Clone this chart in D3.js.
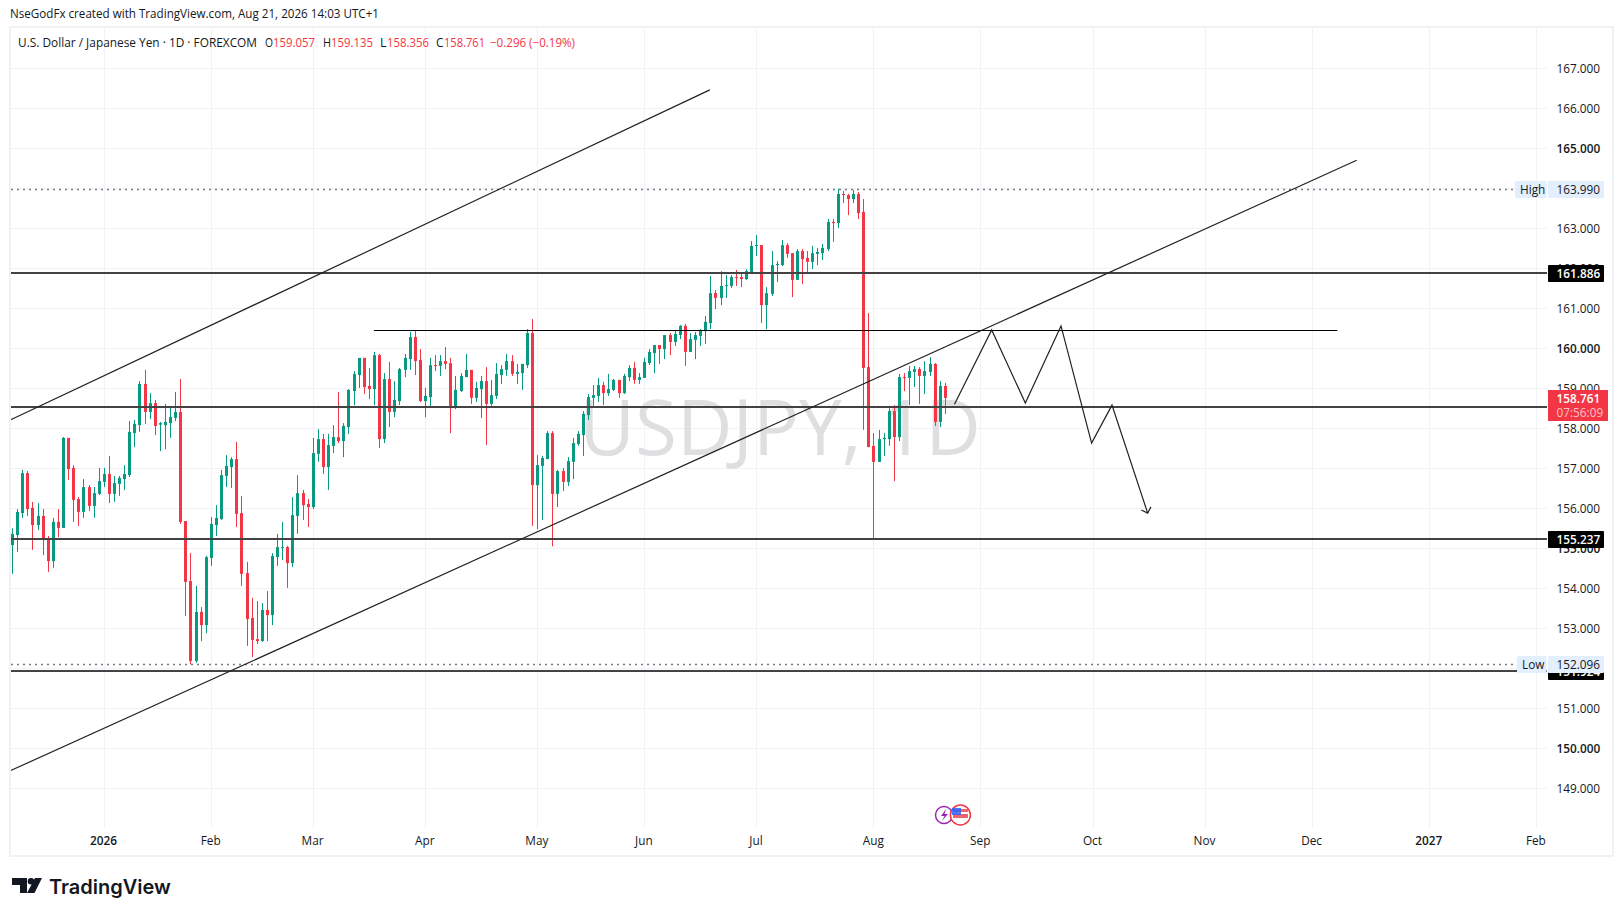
<!DOCTYPE html>
<html lang="en">
<head>
<meta charset="utf-8">
<title>USDJPY 1D</title>
<script src="https://cdn.jsdelivr.net/npm/d3@7"></script>
<style>
html, body { margin: 0; padding: 0; background: #fff; }
svg { display: block; }
text { font-family: "Open Sans", sans-serif; }
.head text, text.head { font-size: 11.8px; }
</style>
</head>
<body>
<div id="chart"></div>
<script>

// daily candles (bar index 0 = first visible bar)
var opens = [155.08,155.33,155.88,156.88,156.01,155.58,155.81,155.26,154.68,155.66,
155.51,157.76,157.01,156.23,155.91,156.53,156.06,156.36,156.66,156.86,
156.36,156.61,156.73,156.83,157.88,158.08,159.11,158.41,158.63,158.09,
158.08,158.13,158.26,158.41,155.68,154.18,152.18,153.41,153.08,154.76,
155.58,155.73,156.81,157.03,157.23,155.88,154.38,153.26,152.73,152.68,
153.46,153.33,154.78,155.01,155.03,154.63,155.81,156.38,156.11,156.03,
157.36,157.73,157.03,157.56,157.78,157.68,158.03,158.93,159.33,159.76,
159.06,158.98,159.83,157.73,159.23,158.41,158.68,159.46,159.73,160.28,
159.71,158.68,158.78,159.58,159.56,159.68,159.63,158.53,158.93,159.28,
159.46,158.76,158.98,159.18,158.61,158.81,159.33,159.46,159.68,159.36,
159.38,159.58,160.38,156.58,157.06,157.23,157.88,156.36,156.93,156.66,
157.16,157.61,157.83,158.33,158.76,158.81,159.08,158.88,158.96,159.21,
158.88,159.28,159.51,159.21,159.26,159.63,159.88,160.08,159.98,160.33,
160.16,160.33,160.56,159.91,160.21,160.31,160.43,160.63,161.38,161.26,
161.56,161.56,161.78,161.78,161.73,161.91,162.56,162.58,161.08,161.36,
162.08,162.08,162.58,162.38,161.71,162.43,162.26,162.16,162.36,162.38,
162.48,163.16,163.13,163.86,163.83,163.73,163.86,163.41,159.53,157.56,
157.16,157.73,157.73,158.43,157.78,159.28,159.26,159.41,159.48,159.31,
159.41,159.61,158.16,159.057];
var highs = [155.50,155.98,156.96,156.93,156.16,156.13,155.98,155.31,155.76,155.98,
157.78,157.76,157.08,156.28,156.73,156.58,156.53,157.01,157.01,157.31,
156.81,156.81,157.08,158.18,158.21,159.18,159.46,158.88,158.71,158.16,
158.61,158.53,158.91,159.23,155.68,154.88,154.06,153.53,154.81,155.78,
156.08,156.96,157.33,157.28,157.66,156.31,154.66,153.76,153.68,153.63,
153.93,154.88,155.36,155.66,155.06,156.28,156.83,156.46,156.23,157.76,
157.98,157.86,157.86,158.08,158.91,158.13,158.98,159.43,159.76,159.76,
159.51,159.91,159.86,159.38,159.66,159.18,159.51,159.86,160.41,160.46,
159.98,159.01,159.76,159.83,159.83,160.03,159.76,159.31,159.38,159.86,
159.46,159.16,159.31,159.53,159.21,159.63,159.58,159.86,159.83,159.61,
159.61,160.48,160.73,157.33,157.31,157.93,157.93,156.96,157.01,157.28,
157.76,157.93,158.43,158.86,159.08,159.26,159.16,159.36,159.23,159.21,
159.36,159.58,159.66,159.38,159.76,159.98,160.08,160.08,160.33,160.38,
160.46,160.58,160.61,160.38,160.41,160.48,160.81,161.81,161.46,161.93,
161.83,161.83,161.96,161.88,161.98,162.68,162.83,162.58,161.53,162.43,
162.18,162.71,162.63,162.38,162.48,162.48,162.43,162.56,162.51,162.61,
163.23,163.23,163.99,163.93,163.86,163.96,163.91,163.73,160.88,157.88,
157.96,157.88,158.56,158.58,159.36,159.38,159.56,159.56,159.53,159.68,
159.78,159.63,159.18,159.135];
var lows = [154.36,154.91,155.76,155.81,154.96,155.46,154.83,154.41,154.51,155.28,
155.51,156.71,155.66,155.56,155.76,155.93,155.76,156.33,156.53,156.13,
156.16,156.31,156.46,156.78,157.53,157.91,158.11,158.23,157.83,157.43,
157.48,157.76,158.18,155.61,153.31,152.10,152.14,152.68,152.88,154.56,
155.31,155.71,156.53,156.51,155.53,154.06,152.56,152.28,152.61,152.66,
152.68,153.08,154.56,154.71,154.01,154.53,155.36,155.71,155.53,155.98,
157.16,156.86,156.46,157.38,157.63,157.28,157.86,158.58,159.01,158.86,
158.73,158.58,157.51,157.63,158.03,158.28,158.58,159.28,159.46,159.33,
158.66,158.28,158.56,159.43,159.31,159.48,157.88,158.48,158.91,159.28,
158.61,158.66,158.26,157.58,158.56,158.73,159.11,159.31,159.31,159.11,
158.96,159.51,155.56,155.48,155.71,157.23,155.05,156.03,156.43,156.56,
156.73,157.56,157.31,158.21,158.56,158.66,158.58,158.81,158.93,158.76,
158.86,159.18,159.11,159.11,159.26,159.58,159.38,159.61,159.73,159.83,
160.06,160.23,159.56,159.91,159.73,160.06,160.11,160.48,160.98,161.08,
161.26,161.51,161.56,161.53,161.71,161.91,162.31,160.63,160.48,161.31,
161.66,162.06,162.26,161.28,161.71,161.61,161.91,161.98,162.08,162.21,
162.43,162.66,163.01,163.63,163.33,163.63,163.23,157.96,157.53,155.24,
157.16,157.31,157.56,156.68,157.68,158.93,158.58,159.03,158.61,158.86,
159.31,158.06,158.03,158.356];
var closes = [155.36,155.91,156.88,155.98,155.58,155.81,155.23,154.68,155.66,155.51,
157.76,156.98,156.21,155.91,156.53,156.06,156.38,156.68,156.86,156.36,
156.63,156.76,156.86,157.91,158.11,159.11,158.41,158.63,158.06,158.13,
158.16,158.28,158.41,155.66,154.16,152.18,153.41,153.08,154.78,155.61,
155.76,156.83,157.06,157.23,155.86,154.36,153.23,152.71,152.68,153.46,
153.33,154.81,155.03,155.03,154.63,155.83,156.38,156.08,156.03,157.38,
157.73,157.03,157.58,157.78,157.68,158.06,158.96,159.36,159.76,159.03,
158.98,159.83,157.73,159.23,158.41,158.71,159.48,159.76,160.28,159.68,
158.68,158.81,159.58,159.56,159.68,159.61,158.56,158.96,159.31,159.46,
158.76,159.01,159.18,158.61,158.83,159.36,159.48,159.68,159.36,159.41,
159.61,160.38,156.58,157.08,157.26,157.88,156.36,156.93,156.66,157.18,
157.63,157.86,158.36,158.78,158.83,159.08,158.88,158.98,159.21,158.88,
159.31,159.51,159.21,159.28,159.66,159.91,160.08,159.98,160.33,160.16,
160.36,160.56,159.91,160.23,160.33,160.46,160.66,161.38,161.26,161.56,
161.58,161.78,161.76,161.73,161.93,162.56,162.58,161.08,161.38,162.08,
162.11,162.58,162.36,161.71,162.43,162.23,162.16,162.38,162.41,162.51,
163.16,163.13,163.86,163.83,163.73,163.86,163.38,159.51,157.53,157.16,
157.73,157.76,158.43,157.78,159.28,159.26,159.43,159.48,159.31,159.43,
159.61,158.16,159.06,158.761];

// axis ticks
var priceTicks = [149,150,151,152,153,154,155,156,157,158,159,160,161,162,163,164,165,166,167];
var monthLabels = ["2026","Feb","Mar","Apr","May","Jun","Jul","Aug","Sep","Oct","Nov","Dec","2027","Feb"];
var monthBars = [18,39,59,81,103,124,146,169,190,212,234,255,278,299];

// drawings: horizontal levels and [bar, price] anchors
var levels = [161.886,158.54,155.237,151.924];
var levelTags = [161.886,155.237,151.924];
var shelf = [[71,160.45],[260,160.45]];
var upperChannel = [[-0.32,158.21],[136.9,166.46]];
var lowerChannel = [[-0.32,149.44],[263.8,164.70]];
var zigzag = [[184.9,158.60],[192.2,160.46],[198.8,158.63],[205.8,160.56],[211.8,157.63],[215.8,158.58],[222.8,155.88]];
var highValue = 163.990, lowValue = 152.096, lastValue = 158.761;

var w = 1623, h = 916;
var left = 11, right = 1547, top_ = 28, bottom = 828;
var green = "#089981", red = "#f23645", gridColor = "#f1f2f5", ink = "#131722";

var x = d3.scaleLinear().domain([0,183]).range([12.05,944.8]);
var y = d3.scaleLinear().domain([149,167]).range([788.3,68.3]);

var svg = d3.select("#chart").append("svg").attr("width",w).attr("height",h);

svg.append("clipPath").attr("id","plot").append("rect")
	.attr("x",left).attr("y",top_).attr("width",right-left).attr("height",bottom-top_);

// frame
svg.append("rect").attr("x",10).attr("y",27).attr("width",1603).attr("height",829)
	.attr("fill","none").attr("stroke",gridColor).attr("stroke-width",2);

// grid
svg.append("g").selectAll("line").data(priceTicks).enter().append("line")
	.attr("x1",left).attr("x2",right)
	.attr("y1",function(d){ return Math.round(y(d))+0.5; })
	.attr("y2",function(d){ return Math.round(y(d))+0.5; })
	.attr("stroke",gridColor);
svg.append("g").selectAll("line").data(monthBars).enter().append("line")
	.attr("y1",top_).attr("y2",bottom)
	.attr("x1",function(d){ return Math.round(x(d))+0.5; })
	.attr("x2",function(d){ return Math.round(x(d))+0.5; })
	.attr("stroke",gridColor);

// watermark
svg.append("text").text("USDJPY, 1D")
	.attr("x",780).attr("y",455).attr("text-anchor","middle")
	.attr("font-size",76.5).attr("fill","#dfdfe1");

// candles
var bars = d3.range(opens.length);
var candle = svg.append("g").selectAll("g").data(bars).enter().append("g")
	.attr("fill",function(i){ return closes[i] >= opens[i] ? green : red; });
candle.append("rect")
	.attr("x",function(i){ return Math.round(x(i)); })
	.attr("width",1)
	.attr("y",function(i){ return y(highs[i]); })
	.attr("height",function(i){ return y(lows[i])-y(highs[i]); });
candle.append("rect")
	.attr("x",function(i){ return Math.round(x(i))-1; })
	.attr("width",3)
	.attr("y",function(i){ return y(Math.max(opens[i],closes[i])); })
	.attr("height",function(i){ return Math.max(1,Math.abs(y(opens[i])-y(closes[i]))); });

// drawings
var drawings = svg.append("g").attr("clip-path","url(#plot)").attr("fill","none");
var line = d3.line().x(function(d){ return x(d[0]); }).y(function(d){ return y(d[1]); });

drawings.selectAll(".level").data(levels).enter().append("line").attr("class","level")
	.attr("x1",left).attr("x2",right)
	.attr("y1",function(d){ return Math.round(y(d)); }).attr("y2",function(d){ return Math.round(y(d)); })
	.attr("stroke","#434343").attr("stroke-width",2);
drawings.selectAll(".hilo").data([highValue,lowValue]).enter().append("line").attr("class","hilo")
	.attr("x1",left).attr("x2",1516)
	.attr("y1",function(d){ return Math.round(y(d))+0.5; }).attr("y2",function(d){ return Math.round(y(d))+0.5; })
	.attr("stroke","#787b86").attr("stroke-width",1.5).attr("stroke-dasharray","2 4");
drawings.append("line")
	.attr("x1",x(shelf[0][0])).attr("x2",x(shelf[1][0]))
	.attr("y1",Math.round(y(shelf[0][1]))+0.5).attr("y2",Math.round(y(shelf[1][1]))+0.5)
	.attr("stroke","#000").attr("stroke-width",1);
[upperChannel,lowerChannel,zigzag].forEach(function(p){
	drawings.append("path").attr("d",line(p)).attr("stroke","#222").attr("stroke-width",1.2);
});
// arrow head on the last leg
var a = zigzag[zigzag.length-2], b = zigzag[zigzag.length-1];
var tipX = x(b[0]), tipY = y(b[1]);
var ang = Math.atan2(tipY-y(a[1]),tipX-x(a[0]));
drawings.append("path")
	.attr("d","M"+(tipX-7*Math.cos(ang-0.8))+","+(tipY-7*Math.sin(ang-0.8))
		+"L"+tipX+","+tipY
		+"L"+(tipX-7*Math.cos(ang+0.8))+","+(tipY-7*Math.sin(ang+0.8)))
	.attr("stroke","#222").attr("stroke-width",1.2);

// price axis
var priceAxis = d3.axisRight(y).tickValues(priceTicks).tickSize(0).tickPadding(9.5).tickFormat(d3.format(".3f"));
var pa = svg.append("g").attr("transform","translate("+right+",0)").call(priceAxis);
pa.select(".domain").remove();
pa.selectAll("text").attr("font-size",11.8).attr("fill",ink).style("font-family","'Open Sans', sans-serif")
	.attr("font-weight",function(d){ return d%5==0 ? 600 : 400; });

// time axis
var timeScale = d3.scaleOrdinal().domain(monthBars).range(monthBars.map(function(d){ return x(d); }));
var timeAxis = d3.axisBottom(timeScale).tickValues(monthBars).tickSize(0).tickPadding(0)
	.tickFormat(function(d,i){ return monthLabels[i]; });
var ta = svg.append("g").attr("transform","translate(-0.7,837)").call(timeAxis);
ta.select(".domain").remove();
ta.selectAll("text").attr("font-size",11.8).attr("fill",ink).style("font-family","'Open Sans', sans-serif")
	.attr("font-weight",function(d,i){ return /^\d/.test(monthLabels[i]) ? 600 : 400; });

// price tags
function tag(x0,wd,y0,bg,fg,label,textX,weight){
	svg.append("rect").attr("x",x0).attr("y",y0).attr("width",wd).attr("height",17).attr("fill",bg).attr("rx",1);
	svg.append("text").text(label).attr("x",textX).attr("y",y0+12.5)
		.attr("font-size",11.8).attr("font-weight",weight).attr("fill",fg);
}
levelTags.forEach(function(v){
	tag(1548,56,Math.round(y(v))-8,"#000","#fff",d3.format(".3f")(v),1556.5,600);
});
[[highValue,"High",1515,31.5],[lowValue,"Low",1517,29.5]].forEach(function(d){
	var y0 = Math.round(y(d[0]))-8;
	tag(1548,56,y0,"#e3effd",ink,d3.format(".3f")(d[0]),1556.5,400);
	tag(d[2],d[3],y0,"#e3effd",ink,d[1],d[2]+5,400);
});

var lastTop = 390;
svg.append("rect").attr("x",1548).attr("y",lastTop).attr("width",60).attr("height",31).attr("fill",red);
svg.append("text").text(d3.format(".3f")(lastValue)).attr("x",1556.5).attr("y",lastTop+13)
	.attr("font-size",11.8).attr("font-weight",600).attr("fill","#fff");
svg.append("text").text("07:56:09").attr("x",1556.5).attr("y",lastTop+27)
	.attr("font-size",11.8).attr("fill","#fff").attr("fill-opacity",0.7);

// header and legend, fitted to the widths in the picture
svg.append("text").attr("class","head").text("NseGodFx created with TradingView.com, Aug 21, 2026 14:03 UTC+1")
	.attr("x",10).attr("y",18).attr("fill",ink)
	.attr("textLength",369).attr("lengthAdjust","spacingAndGlyphs");
var legendParts = [
	["U.S. Dollar / Japanese Yen \u00b7 1D \u00b7 FOREXCOM",18,239,ink],
	["O",265,8,ink],["159.057",273,42,red],
	["H",323,8,ink],["159.135",331,42,red],
	["L",380,6.5,ink],["158.356",387,42,red],
	["C",436,7.5,ink],["158.761",444,41,red],
	["\u22120.296 (\u22120.19%)",490,85,red]
];
svg.append("g").attr("class","head").selectAll("text").data(legendParts).enter().append("text")
	.text(function(d){ return d[0]; })
	.attr("x",function(d){ return d[1]; }).attr("y",46.5)
	.attr("textLength",function(d){ return d[2]; }).attr("lengthAdjust","spacingAndGlyphs")
	.attr("fill",function(d){ return d[3]; });

// event icons under the chart
svg.append("circle").attr("cx",944).attr("cy",815).attr("r",8.5)
	.attr("fill","#fff").attr("stroke","#9c27b0").attr("stroke-width",1.5);
svg.append("path").attr("d","M946,809L941,816L944.5,816L942,821L948,814L944.5,814Z").attr("fill","#9c27b0");
svg.append("circle").attr("cx",960.4).attr("cy",815).attr("r",10)
	.attr("fill","#fff").attr("stroke","#f23645").attr("stroke-width",1.5);
svg.append("rect").attr("x",953).attr("y",809).attr("width",15).attr("height",3).attr("fill","#f0646e");
svg.append("rect").attr("x",953).attr("y",814).attr("width",15).attr("height",4).attr("fill","#f0646e");
svg.append("rect").attr("x",952).attr("y",808).attr("width",9).attr("height",7).attr("fill","#2962ff").attr("fill-opacity",0.85);

// logo
var logo = svg.append("g").attr("fill","#131722");
logo.append("path").attr("d","M12,878H27V893H20V885H12Z");
logo.append("circle").attr("cx",31).attr("cy",881.3).attr("r",3.3);
logo.append("path").attr("d","M35,878H42L34.5,893H27Z");
svg.append("text").text("TradingView").attr("x",49).attr("y",893.5)
	.attr("font-size",20).attr("font-weight",600).attr("fill","#131722")
	.style("font-family","Inter, sans-serif");

</script>
</body>
</html>
